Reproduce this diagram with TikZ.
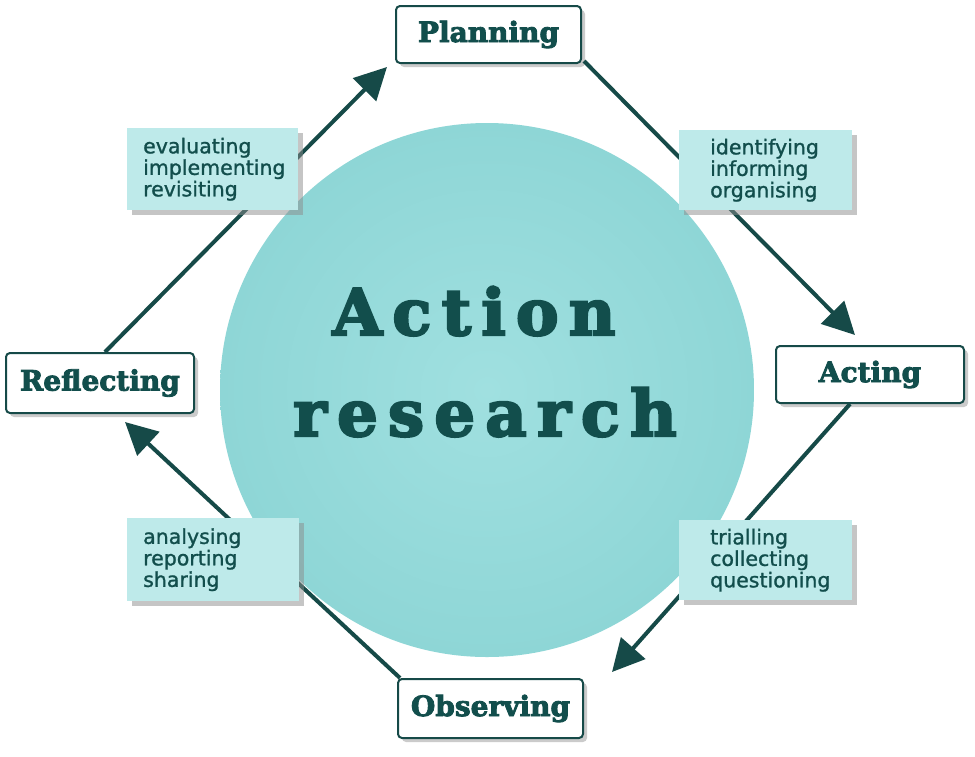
\documentclass[tikz,border=0pt]{standalone}
\usepackage{fontspec}
\usetikzlibrary{arrows.meta,shadows,positioning}
\newfontfamily\headfont[FakeBold=3]{DejaVu Serif Bold}
\newfontfamily\bigfont[FakeBold=3.5,LetterSpace=16]{DejaVu Serif Bold}
\newfontfamily\lblfont[FakeBold=1.2]{DejaVu Sans}
\definecolor{teal1}{RGB}{22,74,72}
\definecolor{circfill}{RGB}{142,214,214}
\definecolor{circin}{RGB}{160,224,224}
\definecolor{lblfill}{RGB}{190,234,234}
\definecolor{txtcol}{RGB}{18,78,76}
\tikzset{
  stage/.style={draw=teal1, line width=2pt, fill=white, rounded corners=4pt,
    anchor=north west, inner sep=0pt, font=\headfont\fontsize{28}{30}\selectfont,
    text=txtcol, drop shadow={shadow xshift=4pt, shadow yshift=-4pt, fill=black!40}},
  lblbox/.style={fill=lblfill, anchor=north west, inner sep=0pt,
    drop shadow={shadow xshift=5pt, shadow yshift=-5pt, fill=black!45}},
  lbltext/.style={anchor=west, align=left, inner sep=0pt, text=txtcol,
    font=\lblfont\fontsize{20.5}{21.5}\selectfont},
  flow/.style={draw=teal1, line width=4pt, -{Triangle[length=32pt,width=32pt]}},
}
\begin{document}
\begin{tikzpicture}[x=1pt,y=-1pt]
\useasboundingbox (0,0) rectangle (975,756);
\fill[white] (0,0) rectangle (975,756);
% central circle
\node[circle, inner color=circin, outer color=circfill, minimum size=534pt, inner sep=0pt] (c) at (487,390) {};
\node[anchor=base, text=txtcol, font=\bigfont\fontsize{64}{64}\selectfont] (t1) at (474,335) {Action};
\node[anchor=base, text=txtcol, font=\bigfont\fontsize{64}{64}\selectfont] (t2) at (485,436) {research};
% stage boxes
\node[stage, minimum width=185pt, minimum height=57pt] (plan) at (395,5) {Planning};
\node[stage, minimum width=188pt, minimum height=57pt] (act) at (775,345) {Acting};
\node[stage, minimum width=188pt, minimum height=60pt] (refl) at (5,352) {Reflecting};
\node[stage, minimum width=185pt, minimum height=59pt] (obs) at (397,678) {Observing};
% connectors
\draw[flow] ([xshift=100pt]refl.north west) -- ([shift={(-8,3)}]plan.south west);
\draw[flow] ([shift={(2,-3)}]plan.south east) -- ([shift={(80,-10)}]act.north west);
\draw[flow] ([xshift=75pt]act.south west) -- ([shift={(28,-6)}]obs.north east);
\draw[flow] ([xshift=3pt]obs.north west) -- ([shift={(120,8)}]refl.south west);
% label boxes
\node[lblbox, minimum width=171pt, minimum height=82pt] (lr) at (127,128) {};
\node[lbltext] (tr) at ([xshift=16pt]lr.west) {evaluating\\implementing\\revisiting};
\node[lblbox, minimum width=173pt, minimum height=80pt] (lp) at (679,130) {};
\node[lbltext] (tp) at ([xshift=31pt]lp.west) {identifying\\informing\\organising};
\node[lblbox, minimum width=172pt, minimum height=83pt] (lo) at (127,518) {};
\node[lbltext] (to) at ([xshift=16pt]lo.west) {analysing\\reporting\\sharing};
\node[lblbox, minimum width=173pt, minimum height=80pt] (la) at (679,520) {};
\node[lbltext] (ta) at ([xshift=31pt]la.west) {trialling\\collecting\\questioning};
\end{tikzpicture}
\end{document}
